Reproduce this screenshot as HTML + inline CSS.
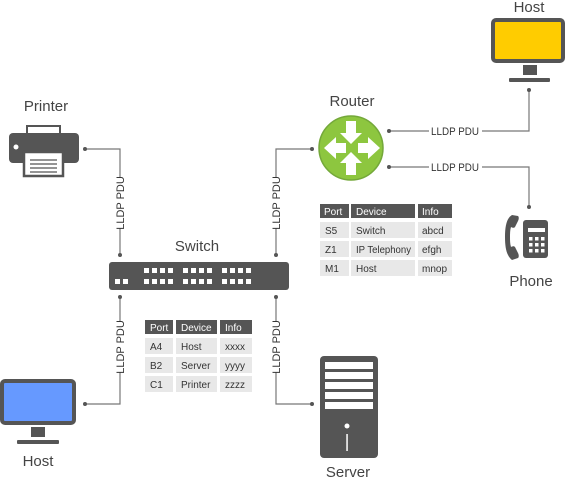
<!DOCTYPE html>
<html><head><meta charset="utf-8"><style>
html,body{margin:0;padding:0;background:#fff;}
svg{display:block;font-family:"Liberation Sans",sans-serif;}
</style></head><body>
<svg width="568" height="478" viewBox="0 0 568 478" xmlns="http://www.w3.org/2000/svg">
<g fill="none" stroke="#777" stroke-width="1.2">
<path d="M85 149H120V255"/>
<path d="M276 255V149H312"/>
<path d="M120 297V404H85"/>
<path d="M276 297V404H312"/>
<path d="M389 131H529V90"/>
<path d="M389 167H529V207"/>
</g>
<g fill="#555">
<circle cx="85" cy="149" r="2"/><circle cx="120" cy="255" r="2"/>
<circle cx="276" cy="255" r="2"/><circle cx="312" cy="149" r="2"/>
<circle cx="120" cy="297" r="2"/><circle cx="85" cy="404" r="2"/>
<circle cx="276" cy="297" r="2"/><circle cx="312" cy="404" r="2"/>
<circle cx="389" cy="131" r="2"/><circle cx="529" cy="90" r="2"/>
<circle cx="389" cy="167" r="2"/><circle cx="529" cy="207" r="2"/>
</g>
<g fill="#fff">
<rect x="429" y="124" width="53" height="14"/><rect x="429" y="160" width="53" height="14"/>
<rect x="113" y="178" width="14" height="50"/><rect x="269" y="178" width="14" height="50"/>
<rect x="113" y="322" width="14" height="50"/><rect x="269" y="322" width="14" height="50"/>
</g>
<g font-size="11" fill="#333">
<text x="455" y="135" text-anchor="middle" textLength="48" lengthAdjust="spacingAndGlyphs">LLDP PDU</text>
<text x="455" y="171" text-anchor="middle" textLength="48" lengthAdjust="spacingAndGlyphs">LLDP PDU</text>
<text transform="translate(124,203) rotate(-90)" text-anchor="middle">LLDP PDU</text>
<text transform="translate(280,203) rotate(-90)" text-anchor="middle">LLDP PDU</text>
<text transform="translate(124,347) rotate(-90)" text-anchor="middle">LLDP PDU</text>
<text transform="translate(280,347) rotate(-90)" text-anchor="middle">LLDP PDU</text>
</g>
<g font-size="15" fill="#444" text-anchor="middle">
<text x="529" y="12">Host</text>
<text x="352" y="106">Router</text>
<text x="46" y="111">Printer</text>
<text x="197" y="251">Switch</text>
<text x="531" y="286">Phone</text>
<text x="38" y="466">Host</text>
<text x="348" y="477">Server</text>
</g>
<rect x="493" y="20" width="70" height="41" rx="3" fill="#ffcc00" stroke="#555" stroke-width="4"/>
<rect x="523" y="65" width="14" height="10" fill="#555"/>
<rect x="509" y="78" width="41" height="4" rx="1" fill="#555"/>
<rect x="2" y="381" width="72" height="42" rx="3" fill="#6699ff" stroke="#555" stroke-width="4"/>
<rect x="31" y="427" width="14" height="10" fill="#555"/>
<rect x="17" y="440" width="42" height="4" rx="1" fill="#555"/>
<circle cx="351" cy="148" r="32" fill="#8dc63f" stroke="#74a83a" stroke-width="1.5"/>
<g fill="#fff">
<path d="M346 121h10v12h6l-11 11-11-11h6z"/>
<path d="M346 175h10v-12h6l-11-11-11 11h6z"/>
<path d="M324 148l12-11v6h10v10h-10v6z"/>
<path d="M380 148l-12-11v6h-10v10h10v6z"/>
</g>
<rect x="27" y="126" width="33" height="14" fill="#fff" stroke="#555" stroke-width="2"/>
<rect x="9" y="133" width="70" height="30" rx="4" fill="#555"/>
<circle cx="16" cy="147" r="2.5" fill="#fff"/>
<rect x="24" y="152" width="39" height="24" fill="#fff" stroke="#555" stroke-width="2.5"/>
<g stroke="#555" stroke-width="1.3"><path d="M30 160h27M30 164h27M30 168h27M30 172h27"/></g>
<rect x="109" y="262" width="180" height="28" rx="3" fill="#555"/>
<g fill="#fff">
<rect x="115" y="279" width="5" height="5"/><rect x="123" y="279" width="5" height="5"/>
<rect x="144" y="268" width="5" height="5"/><rect x="152" y="268" width="5" height="5"/><rect x="160" y="268" width="5" height="5"/><rect x="168" y="268" width="5" height="5"/>
<rect x="183" y="268" width="5" height="5"/><rect x="191" y="268" width="5" height="5"/><rect x="199" y="268" width="5" height="5"/><rect x="207" y="268" width="5" height="5"/>
<rect x="222" y="268" width="5" height="5"/><rect x="230" y="268" width="5" height="5"/><rect x="238" y="268" width="5" height="5"/><rect x="246" y="268" width="5" height="5"/>
<rect x="144" y="279" width="5" height="5"/><rect x="152" y="279" width="5" height="5"/><rect x="160" y="279" width="5" height="5"/><rect x="168" y="279" width="5" height="5"/>
<rect x="183" y="279" width="5" height="5"/><rect x="191" y="279" width="5" height="5"/><rect x="199" y="279" width="5" height="5"/><rect x="207" y="279" width="5" height="5"/>
<rect x="222" y="279" width="5" height="5"/><rect x="230" y="279" width="5" height="5"/><rect x="238" y="279" width="5" height="5"/><rect x="246" y="279" width="5" height="5"/>
</g>
<path d="M512 215c-5 3-7 10-7 22s2 19 7 23l6-2c1-1 1-3 0-5l-3-6c-1-1-2-1-4 0-1-3-1-7-1-10s0-7 1-10c2 1 3 1 4 0l3-6c1-2 1-4 0-5z" fill="#555"/>
<rect x="523" y="220" width="25" height="38" rx="3" fill="#555"/>
<rect x="528" y="228" width="17" height="4" fill="#fff"/>
<g fill="#fff">
<rect x="529" y="237" width="3.5" height="3.5"/><rect x="535" y="237" width="3.5" height="3.5"/><rect x="541" y="237" width="3.5" height="3.5"/>
<rect x="529" y="243" width="3.5" height="3.5"/><rect x="535" y="243" width="3.5" height="3.5"/><rect x="541" y="243" width="3.5" height="3.5"/>
<rect x="529" y="249" width="3.5" height="3.5"/><rect x="535" y="249" width="3.5" height="3.5"/><rect x="541" y="249" width="3.5" height="3.5"/>
</g>
<rect x="320" y="356" width="58" height="102" rx="4" fill="#555"/>
<g fill="#fff">
<rect x="325" y="362" width="48" height="7"/><rect x="325" y="372" width="48" height="7"/>
<rect x="325" y="382" width="48" height="7"/><rect x="325" y="392" width="48" height="7"/>
<rect x="325" y="402" width="48" height="7"/>
<circle cx="347" cy="426" r="2.5"/><rect x="346.3" y="434" width="1.5" height="17"/>
</g>
<g font-size="10">
<rect x="320" y="204" width="29" height="14" fill="#555"/><rect x="351" y="204" width="64" height="14" fill="#555"/><rect x="418" y="204" width="34" height="14" fill="#555"/>
<g fill="#fff"><text x="324" y="215">Port</text><text x="356" y="215">Device</text><text x="422" y="215">Info</text></g>
<g fill="#e8e8e8">
<rect x="320" y="222" width="29" height="16"/><rect x="351" y="222" width="64" height="16"/><rect x="418" y="222" width="34" height="16"/>
<rect x="320" y="241" width="29" height="16"/><rect x="351" y="241" width="64" height="16"/><rect x="418" y="241" width="34" height="16"/>
<rect x="320" y="260" width="29" height="16"/><rect x="351" y="260" width="64" height="16"/><rect x="418" y="260" width="34" height="16"/>
</g>
<g fill="#333">
<text x="325" y="234">S5</text><text x="356" y="234">Switch</text><text x="422" y="234">abcd</text>
<text x="325" y="253">Z1</text><text x="356" y="253" textLength="55" lengthAdjust="spacingAndGlyphs">IP Telephony</text><text x="422" y="253">efgh</text>
<text x="325" y="272">M1</text><text x="356" y="272">Host</text><text x="422" y="272">mnop</text>
</g>
<rect x="145" y="320" width="28" height="14" fill="#555"/><rect x="176" y="320" width="41" height="14" fill="#555"/><rect x="220" y="320" width="32" height="14" fill="#555"/>
<g fill="#fff"><text x="150" y="331">Port</text><text x="181" y="331">Device</text><text x="225" y="331">Info</text></g>
<g fill="#e8e8e8">
<rect x="145" y="338" width="28" height="16"/><rect x="176" y="338" width="41" height="16"/><rect x="220" y="338" width="32" height="16"/>
<rect x="145" y="357" width="28" height="16"/><rect x="176" y="357" width="41" height="16"/><rect x="220" y="357" width="32" height="16"/>
<rect x="145" y="376" width="28" height="16"/><rect x="176" y="376" width="41" height="16"/><rect x="220" y="376" width="32" height="16"/>
</g>
<g fill="#333">
<text x="150" y="350">A4</text><text x="181" y="350">Host</text><text x="225" y="350">xxxx</text>
<text x="150" y="369">B2</text><text x="181" y="369">Server</text><text x="225" y="369">yyyy</text>
<text x="150" y="388">C1</text><text x="181" y="388">Printer</text><text x="225" y="388">zzzz</text>
</g>
</g>
</svg>
</body></html>
